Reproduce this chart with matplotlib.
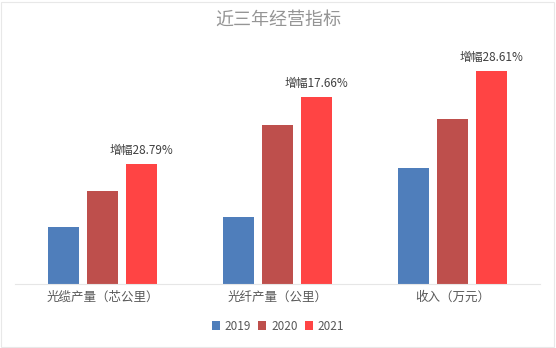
import matplotlib.pyplot as plt
from matplotlib.patches import Patch, Rectangle
import numpy as np

plt.rcParams['font.family'] = ['Noto Sans CJK SC', 'DejaVu Sans']

categories = ['光缆产量（芯公里）', '光纤产量（公里）', '收入（万元）']
years = ['2019', '2020', '2021']
v2019 = [57.0, 67.0, 116.0]
v2020 = [93.0, 159.0, 165.5]
v2021 = [119.8, 187.1, 212.9]
growth_labels = ['增幅28.79%', '增幅17.66%', '增幅28.61%']
colors = ['#4F7EBB', '#BE4F4C', '#FF4444']

W, H = 556, 348
fig = plt.figure(figsize=(W / 100, H / 100), dpi=100)
fig.patch.set_facecolor('white')
fig.patches.append(Rectangle((1 / W, 1 / H), 1 - 3 / W, 1 - 3 / H, transform=fig.transFigure,
                             fill=False, edgecolor='#E8E8E8', linewidth=0.8))

ax = fig.add_axes([15 / W, (H - 284) / H, 525 / W, 224 / H])
x = np.arange(len(categories))
width = 0.177
step = 0.223
series = [v2019, v2020, v2021]
for i, (vals, c, yr) in enumerate(zip(series, colors, years)):
    ax.bar(x + (i - 1) * step, vals, width=width, color=c, label=yr, zorder=2)

for xi, top, lab in zip(x, v2021, growth_labels):
    ax.annotate(lab, (xi + step, top), xytext=(0, 5), textcoords='offset points',
                ha='center', va='bottom', fontsize=8.5, color='#404040')

ax.set_xlim(-0.5, 2.5)
ax.set_ylim(0, 224)
ax.set_yticks([])
ax.set_xticks(x)
ax.set_xticklabels(categories, fontsize=9, color='#595959')
ax.tick_params(axis='x', length=0, pad=5)
for s in ['top', 'right', 'left']:
    ax.spines[s].set_visible(False)
ax.spines['bottom'].set_color('#E6E6E6')
ax.spines['bottom'].set_linewidth(0.8)

fig.text(0.5, (H - 20) / H, '近三年经营指标', ha='center', va='center',
         fontsize=13, color='#959595')

handles = [Patch(facecolor=c, label=y) for c, y in zip(colors, years)]
fig.legend(handles=handles, loc='center', bbox_to_anchor=(0.5, (H - 326) / H), ncol=3,
           frameon=False, fontsize=8.5, handlelength=0.7, handleheight=0.7,
           handletextpad=0.4, columnspacing=0.6, labelcolor='#595959')

fig.savefig('out.png', dpi=100, facecolor='white')
